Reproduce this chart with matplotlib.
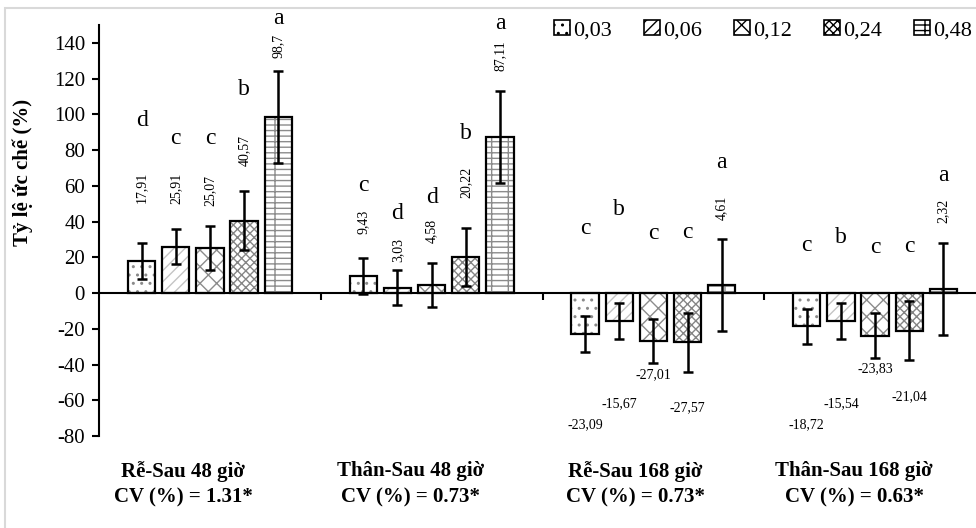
import matplotlib
matplotlib.use("Agg")
import matplotlib.pyplot as plt
from matplotlib.patches import Patch, Rectangle
import numpy as np

plt.rcParams['font.family'] = ['Liberation Serif', 'DejaVu Serif']
plt.rcParams['hatch.linewidth'] = 1.0

# ---------------- data ----------------
groups = ["Rễ-Sau 48 giờ\nCV (%) = 1.31*",
          "Thân-Sau 48 giờ\nCV (%) = 0.73*",
          "Rễ-Sau 168 giờ\nCV (%) = 0.73*",
          "Thân-Sau 168 giờ\nCV (%) = 0.63*"]
concentrations = ["0,03", "0,06", "0,12", "0,24", "0,48"]

re_48 = [17.91, 25.91, 25.07, 40.57, 98.7]
than_48 = [9.43, 3.03, 4.58, 20.22, 87.11]
re_168 = [-23.09, -15.67, -27.01, -27.57, 4.61]
than_168 = [-18.72, -15.54, -23.83, -21.04, 2.32]

err_re_48 = [10.0, 9.9, 12.4, 16.4, 25.8]
err_than_48 = [10.0, 9.9, 12.4, 16.4, 25.8]
err_re_168 = [10.0, 9.9, 12.4, 16.4, 25.8]
err_than_168 = [10.0, 9.9, 12.4, 16.4, 25.8]

letters_re_48 = ["d", "c", "c", "b", "a"]
letters_than_48 = ["c", "d", "d", "b", "a"]
letters_re_168 = ["c", "b", "c", "c", "a"]
letters_than_168 = ["c", "b", "c", "c", "a"]

yticks = [-80, -60, -40, -20, 0, 20, 40, 60, 80, 100, 120, 140]
ylabel = "Tỷ lệ ức chế (%)"

# ---------------- layout (text placement, data units) ----------------
letter_y = [[96.5, 86.4, 86.4, 113.7, 153.9],
            [60.1, 44.5, 53.4, 89.2, 150.6],
            [36.1, 46.7, 33.3, 33.9, 73.0],
            [26.6, 31.1, 25.5, 26.1, 65.7]]
value_y = [[59.0, 58.3, 57.3, 79.7, 138.3],
           [40.1, 24.3, 35.0, 62.0, 132.7],
           [-73.9, -62.1, -45.8, -64.0, 47.6],
           [-73.9, -61.8, -42.2, -58.1, 46.2]]
group_label_dx = [-0.12, -0.095, -0.08, -0.095]

values = [re_48, than_48, re_168, than_168]
errors = [err_re_48, err_than_48, err_re_168, err_than_168]
letters = [letters_re_48, letters_than_48, letters_re_168, letters_than_168]

hatches = ['..', '///', 'xx', 'xxxx', '---|']
hatch_colors = ['#8a8a8a', '#c4c4c4', '#8c8c8c', '#858585', '#8c8c8c']

W, H = 976, 528
fig = plt.figure(figsize=(W / 100, H / 100), dpi=100)
ax_left, ax_right, ax_top, ax_bot = 99, 986, 25, 436
ax = fig.add_axes([ax_left / W, 1 - ax_bot / H, (ax_right - ax_left) / W, (ax_bot - ax_top) / H])

pitch = 0.154
width = 0.123
gx = np.arange(len(groups))

for i in range(len(concentrations)):
    xs = gx + (i - 2) * pitch
    vs = [values[g][i] for g in range(len(groups))]
    es = [errors[g][i] for g in range(len(groups))]
    ax.bar(xs, vs, width, color='white', edgecolor=hatch_colors[i], hatch=hatches[i], linewidth=0, zorder=2)
    ax.bar(xs, vs, width, fill=False, edgecolor='black', linewidth=1.6, zorder=3)
    ax.errorbar(xs, vs, yerr=es, fmt='none', ecolor='black', elinewidth=1.8,
                capsize=3.8, capthick=1.8, zorder=4)

# annotations
for g in range(len(groups)):
    for i in range(len(concentrations)):
        x = gx[g] + (i - 2) * pitch
        v = values[g][i]
        ax.text(x, letter_y[g][i], letters[g][i], ha='center', va='center', fontsize=17, clip_on=False, zorder=5)
        lab = f"{v:g}".replace('.', ',')
        if v >= 0:
            ax.text(x, value_y[g][i], lab, ha='center', va='center', rotation=90, fontsize=10, zorder=5)
        else:
            ax.text(x, value_y[g][i], lab, ha='center', va='center', fontsize=10, zorder=5)
    ax.text(gx[g] + group_label_dx[g], -107, groups[g], ha='center', va='center', fontsize=15,
            fontweight='bold', linespacing=1.4, clip_on=False)

ax.set_xlim(-0.5, 3.5)
ax.set_ylim(-80, 150)
ax.set_yticks(yticks)
ax.set_yticklabels([str(t) for t in yticks], fontsize=15)
ax.set_xticks([0.5, 1.5, 2.5])
ax.set_xticklabels([])
ax.spines['bottom'].set_position(('data', 0))
ax.spines['top'].set_visible(False)
ax.spines['right'].set_visible(False)
for s in ['left', 'bottom']:
    ax.spines[s].set_linewidth(1.5)
ax.tick_params(axis='y', direction='out', length=5, width=1.5, pad=5)
ax.tick_params(axis='x', direction='out', length=5, width=1.5)
ax.set_ylabel(ylabel, fontsize=15, fontweight='bold')
ax.yaxis.set_label_coords(-(99 - 33) / (ax_right - ax_left), 1 - (172 - ax_top) / (ax_bot - ax_top))

handles = [Patch(facecolor='white', edgecolor='black', hatch=hatches[i], linewidth=1.2) for i in range(5)]
fig.legend(handles, concentrations, loc='center right', bbox_to_anchor=(972 / W, 1 - 30 / H),
           ncol=5, frameon=False, fontsize=16, handlelength=0.7, handleheight=0.7,
           handletextpad=0.15, columnspacing=1.45, borderpad=0, borderaxespad=0)

fig.add_artist(Rectangle((5 / W, -0.1), 2, 1 - 8 / H + 0.1, transform=fig.transFigure,
                         fill=False, edgecolor='#d9d9d9', linewidth=1.5))

fig.savefig("out.png", dpi=100)
